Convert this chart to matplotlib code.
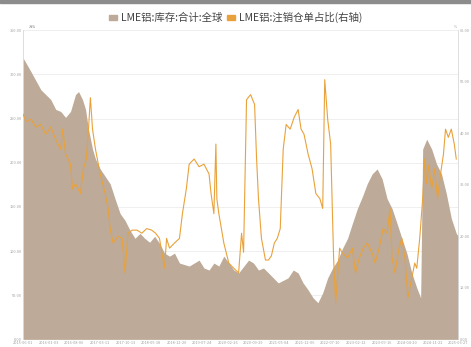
import matplotlib
matplotlib.use("Agg")
import matplotlib.pyplot as plt
import matplotlib.dates as mdates
from matplotlib.patches import Patch
import pandas as pd

plt.rcParams['font.family'] = ['Noto Sans CJK SC', 'DejaVu Sans']

# === DATA ===
stock_dates = [
    "2015-06-01", "2015-08-07", "2015-10-29", "2016-01-21", "2016-03-03", "2016-04-14",
    "2016-05-25", "2016-07-06", "2016-08-17", "2016-09-12", "2016-10-15", "2016-11-10",
    "2016-12-05", "2017-01-08", "2017-02-02", "2017-03-14", "2017-06-06", "2017-07-17",
    "2017-08-29", "2017-10-10", "2017-11-21", "2018-01-02", "2018-02-13", "2018-03-25",
    "2018-05-06", "2018-06-17", "2018-07-28", "2018-09-09", "2018-10-21", "2018-12-02",
    "2019-01-13", "2019-04-05", "2019-06-28", "2019-08-08", "2019-09-20", "2019-10-31",
    "2019-12-12", "2020-01-23", "2020-03-05", "2020-04-16", "2020-05-27", "2020-08-19",
    "2020-09-30", "2020-11-11", "2020-12-23", "2021-02-03", "2021-04-27", "2021-07-19",
    "2021-09-01", "2021-10-12", "2021-11-23", "2022-01-04", "2022-02-15", "2022-03-28",
    "2022-05-08", "2022-06-19", "2022-07-31", "2022-09-11", "2022-10-23", "2022-12-04",
    "2023-01-14", "2023-02-25", "2023-04-08", "2023-05-19", "2023-06-30", "2023-08-11",
    "2023-09-22", "2023-11-03", "2023-12-15", "2024-01-26", "2024-03-07", "2024-04-18",
    "2024-05-30", "2024-07-11", "2024-08-13", "2024-08-30", "2024-10-03", "2024-11-14",
    "2024-12-25", "2025-02-05", "2025-03-18", "2025-04-29", "2025-06-10", "2025-06-27",
]
stock_values = [
    318.6, 302.9, 282.7, 271.5, 260.3, 258.0,
    251.3, 258.0, 277.1, 280.5, 271.5, 260.3,
    237.8, 215.4, 204.2, 192.9, 176.1, 159.3,
    142.5, 134.6, 123.4, 114.4, 120.0, 114.4,
    109.9, 116.7, 108.8, 97.6, 94.2, 97.6,
    86.4, 83.0, 89.7, 80.8, 78.5, 86.4,
    83.0, 94.2, 86.4, 78.5, 75.2, 89.7,
    86.4, 78.5, 80.8, 75.2, 63.9, 69.6,
    78.5, 75.2, 63.9, 56.1, 47.1, 41.5,
    52.7, 69.6, 80.8, 89.7, 103.2, 114.4,
    131.3, 148.1, 161.5, 176.1, 187.3, 192.9,
    181.7, 159.3, 148.1, 131.3, 114.4, 97.6,
    75.2, 58.3, 47.1, 215.4, 226.6, 215.4,
    198.6, 187.3, 164.9, 136.9, 120.0, 116.7,
]

ratio_dates = [
    "2015-06-01", "2015-06-26", "2015-08-07", "2015-09-18", "2015-10-29", "2015-12-10",
    "2016-01-21", "2016-03-03", "2016-04-14", "2016-05-01", "2016-05-25", "2016-07-06",
    "2016-07-23", "2016-08-17", "2016-09-28", "2016-10-23", "2016-11-17", "2016-12-05",
    "2016-12-21", "2017-01-08", "2017-02-02", "2017-03-14", "2017-04-25", "2017-05-20",
    "2017-06-06", "2017-07-01", "2017-08-12", "2017-09-15", "2017-10-10", "2017-11-04",
    "2017-12-08", "2018-01-19", "2018-03-01", "2018-04-11", "2018-05-23", "2018-06-25",
    "2018-07-28", "2018-09-09", "2018-09-26", "2018-10-21", "2018-12-02", "2019-01-13",
    "2019-02-07", "2019-03-12", "2019-04-05", "2019-05-17", "2019-06-28", "2019-08-08",
    "2019-09-20", "2019-10-07", "2019-10-31", "2019-11-17", "2019-11-25", "2019-12-12",
    "2020-01-23", "2020-03-05", "2020-04-16", "2020-05-27", "2020-06-21", "2020-07-08",
    "2020-08-02", "2020-09-05", "2020-10-09", "2020-10-26", "2020-11-11", "2020-12-06",
    "2021-01-09", "2021-02-03", "2021-02-28", "2021-03-25", "2021-04-19", "2021-05-14",
    "2021-06-08", "2021-07-03", "2021-08-06", "2021-09-09", "2021-10-12", "2021-11-06",
    "2021-12-01", "2022-01-04", "2022-02-07", "2022-03-11", "2022-04-14", "2022-05-08",
    "2022-05-25", "2022-06-19", "2022-07-14", "2022-08-08", "2022-08-25", "2022-09-28",
    "2022-10-23", "2022-12-04", "2023-01-14", "2023-02-09", "2023-03-13", "2023-04-16",
    "2023-05-19", "2023-06-30", "2023-07-25", "2023-08-28", "2023-10-01", "2023-11-03",
    "2023-11-28", "2023-12-15", "2024-01-09", "2024-02-12", "2024-03-07", "2024-04-02",
    "2024-04-27", "2024-05-22", "2024-06-24", "2024-07-11", "2024-08-05", "2024-08-30",
    "2024-09-16", "2024-10-03", "2024-10-20", "2024-11-14", "2024-12-09", "2025-01-03",
    "2025-01-28", "2025-02-22", "2025-03-11", "2025-04-04", "2025-04-29", "2025-05-24",
    "2025-06-10",
]
ratio_values = [
    43.7, 42.3, 42.7, 41.2, 41.7, 39.8,
    41.2, 38.8, 36.9, 40.8, 36.0, 34.0,
    29.2, 30.2, 28.3, 33.1, 35.0, 40.8,
    46.9, 40.8, 36.9, 32.1, 28.3, 25.4,
    21.5, 18.7, 20.0, 19.6, 12.9, 20.6,
    21.2, 21.2, 20.6, 21.5, 21.2, 20.6,
    19.6, 13.8, 19.6, 17.7, 18.7, 19.6,
    24.4, 29.2, 34.0, 35.0, 33.5, 34.0,
    32.1, 28.3, 24.4, 37.9, 27.3, 24.4,
    18.7, 14.8, 13.8, 12.9, 20.6, 16.9,
    46.5, 47.5, 45.6, 35.0, 27.3, 19.6,
    15.4, 15.4, 16.2, 18.7, 19.6, 21.5,
    36.9, 41.7, 40.8, 43.1, 44.6, 40.8,
    39.8, 36.0, 33.1, 28.3, 27.3, 25.4,
    50.4, 42.7, 37.9, 15.8, 7.1, 17.7,
    16.7, 15.8, 17.7, 12.9, 15.8, 17.7,
    18.7, 16.7, 14.8, 17.7, 21.5, 20.6,
    25.4, 15.8, 12.9, 17.7, 19.6, 15.8,
    8.1, 11.0, 14.8, 13.8, 19.6, 27.3,
    35.0, 30.2, 33.8, 29.2, 33.1, 27.3,
    32.1, 36.0, 40.8, 39.2, 40.8, 37.9,
    35.0,
]

stock_label = "LME铝:库存:合计:全球"
ratio_label = "LME铝:注销仓单占比(右轴)"
left_ticks = [0, 50, 100, 150, 200, 250, 300, 350]
right_ticks = [0, 10, 20, 30, 40, 50, 60]

fill_color = "#BDAA98"
line_color = "#E9A23B"
tick_color = "#A0A0A0"

stock_x = pd.to_datetime(stock_dates)
ratio_x = pd.to_datetime(ratio_dates)

fig = plt.figure(figsize=(4.71, 3.47), dpi=100)
fig.patch.set_facecolor("white")
ax = fig.add_axes([0.049, 0.022, 0.924, 0.891])

ax.fill_between(stock_x, stock_values, 0, color=fill_color, linewidth=0, zorder=2)
ax.set_ylim(0, 350)
ax.set_yticks(left_ticks)
ax.set_yticklabels([f"{v:.2f}" for v in left_ticks])
ax.set_xlim(stock_x[0], stock_x[-1])
ax.grid(axis="y", color="#EDEDED", linewidth=0.6, zorder=0)

ax2 = ax.twinx()
ax2.plot(ratio_x, ratio_values, color=line_color, linewidth=0.8, zorder=3)
ax2.set_ylim(0, 60)
ax2.set_yticks(right_ticks)
ax2.set_yticklabels([f"{v:.2f}" for v in right_ticks])

ticks = pd.date_range(stock_x[0], stock_x[-1], periods=18)
ax.set_xticks(ticks)
ax.xaxis.set_major_formatter(mdates.DateFormatter("%Y-%m-%d"))

for a in (ax, ax2):
    a.tick_params(labelsize=2.8, colors=tick_color, length=0, pad=1)
    for s in a.spines.values():
        s.set_visible(False)
ax.spines["left"].set_visible(True)
ax.spines["left"].set_color("#D8D8D8")
ax.spines["left"].set_linewidth(0.6)
ax2.spines["right"].set_visible(True)
ax2.spines["right"].set_color("#D8D8D8")
ax2.spines["right"].set_linewidth(0.6)

# unit labels above axes
fig.text(0.068, 0.92, "万吨", fontsize=2.5, color=tick_color, ha="center")
fig.text(0.968, 0.92, "%", fontsize=2.5, color=tick_color, ha="center")

# legend
handles = [Patch(color=fill_color, label=stock_label),
           Patch(color=line_color, label=ratio_label)]
fig.legend(handles=handles, loc="center", bbox_to_anchor=(0.5, 0.95), ncol=2,
           frameon=False, fontsize=7.5, handlelength=0.8, handleheight=0.35,
           handletextpad=0.3, columnspacing=0.5, labelcolor="#444444")

# grey band at top edge
fig.patches.append(plt.Rectangle((0, 0.99), 1, 0.01, transform=fig.transFigure,
                                 color="#8C8C8C", zorder=0))

fig.savefig("out.png", dpi=100)
